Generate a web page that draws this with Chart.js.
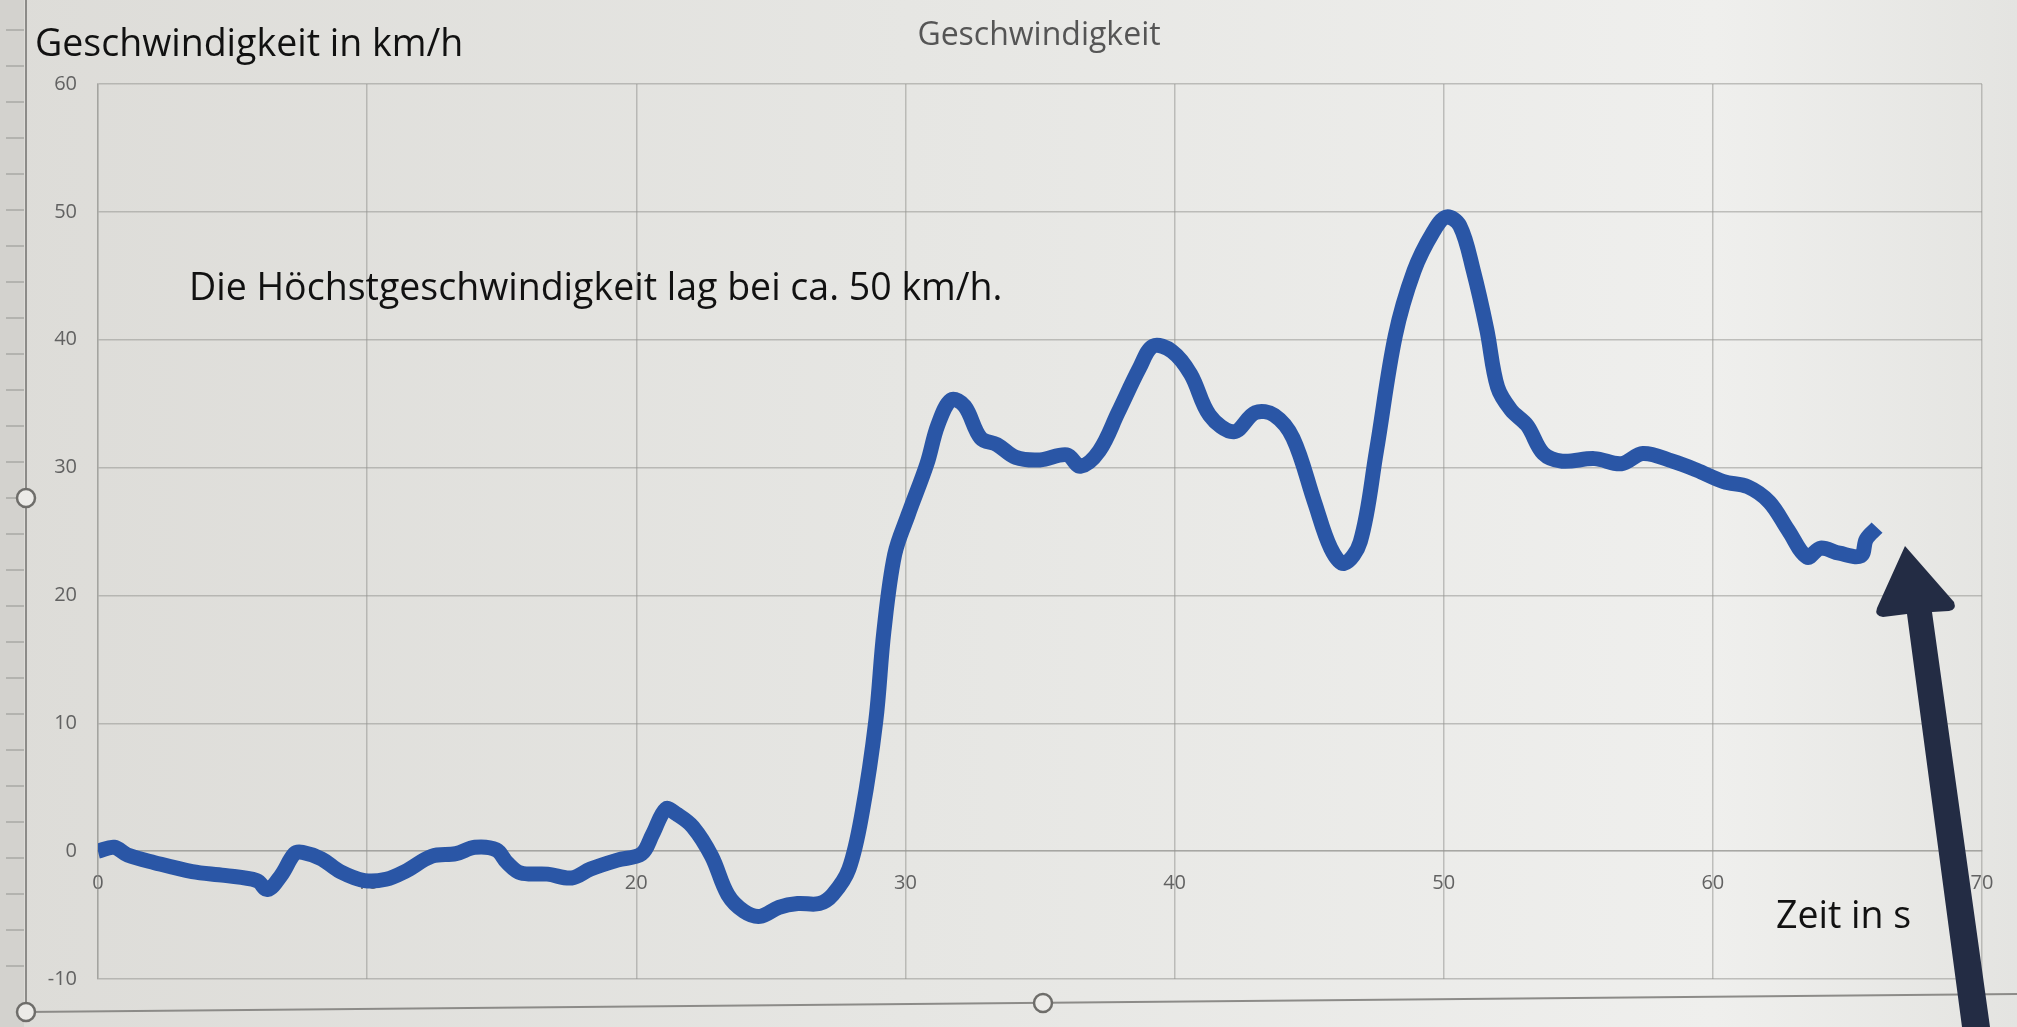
<!DOCTYPE html>
<html lang="de">
<head>
<meta charset="utf-8">
<title>Geschwindigkeit</title>
<script src="https://cdn.jsdelivr.net/npm/chart.js@4.4.1/dist/chart.umd.min.js"></script>
<style>
  html, body { margin: 0; padding: 0; background: #e3e3e0; overflow: hidden; }
  #graphique { display: block; }
</style>
</head>
<body>
<canvas id="graphique" width="2017" height="1027"></canvas>
<script>
/* global Chart */
// Zeit in s
const zeit = [
  0, 0.6, 1.1, 2.1, 3.5, 4.7, 5.9, 6.3, 6.8, 7.3, 7.6, 8.3, 9.0, 9.9, 10.7, 11.4,
  12.4, 13.3, 14.0, 14.8, 15.2, 15.7, 16.7, 17.6, 18.3, 19.3, 20.2, 20.6, 21.1, 21.5,
  22.1, 22.8, 23.4, 24.0, 24.6, 25.3, 26.0, 26.8, 27.3, 27.9, 28.4, 28.9, 29.2, 29.6,
  30.1, 30.8, 31.2, 31.7, 32.2, 32.8, 33.4, 34.1, 35.0, 36.0, 36.5, 37.2, 37.9, 38.7,
  39.2, 39.9, 40.6, 41.3, 42.2, 43.0, 43.7, 44.4, 45.2, 45.8, 46.3, 46.9, 47.5, 48.2,
  48.9, 49.6, 50.1, 50.6, 51.1, 51.6, 52.0, 52.5, 53.1, 53.7, 54.4, 55.6, 56.6, 57.4,
  58.5, 59.4, 60.4, 61.3, 62.1, 62.8, 63.5, 64.0, 64.7, 65.5, 65.7, 66.1
];
// Geschwindigkeit in km/h
const geschwindigkeit = [
  0, 0.3, -0.3, -0.9, -1.6, -1.9, -2.3, -3.0, -1.9, -0.2, -0.1, -0.6, -1.6, -2.3, -2.2, -1.6,
  -0.4, -0.2, 0.3, 0.1, -0.9, -1.7, -1.8, -2.1, -1.4, -0.7, -0.2, 1.3, 3.3, 2.9,
  1.9, -0.4, -3.4, -4.7, -5.1, -4.4, -4.1, -4.1, -3.4, -1.4, 3.1, 10.2, 17.2, 23.2,
  26.3, 30.3, 33.3, 35.3, 34.8, 32.3, 31.8, 30.8, 30.6, 31.0, 30.1, 31.3, 34.3, 37.8,
  39.5, 39.1, 37.3, 34.1, 32.8, 34.3, 34.1, 32.3, 27.3, 23.7, 22.5, 24.2, 31.3, 40.3,
  45.4, 48.4, 49.6, 48.9, 45.4, 40.8, 36.3, 34.5, 33.3, 31.1, 30.5, 30.7, 30.3, 31.1,
  30.5, 29.8, 28.9, 28.5, 27.3, 25.1, 23.0, 23.7, 23.3, 23.1, 24.4, 25.3
];
const xTicks = [0, 10, 20, 30, 40, 50, 60, 70];
const yTicks = [-10, 0, 10, 20, 30, 40, 50, 60];

const points = zeit.map((t, i) => ({ x: t, y: geschwindigkeit[i] }));

const gridColor = "rgba(150, 150, 146, 0.55)";
const tickFont = { family: "'Open Sans'", size: 20 };

// fond, cadre Excel, textes et fleche
const fondPlugin = {
  id: "fond",
  beforeDraw(chart) {
    const ctx = chart.ctx;
    const w = chart.width, h = chart.height;
    ctx.save();
    const g = ctx.createLinearGradient(0, 0, w, 0);
    g.addColorStop(0, "#dddcd8");
    g.addColorStop(0.45, "#e6e6e3");
    g.addColorStop(0.85, "#efefed");
    g.addColorStop(1, "#e4e4e1");
    ctx.fillStyle = g;
    ctx.fillRect(0, 0, w, h);
    // bande gauche
    ctx.fillStyle = "#d3d2ce";
    ctx.fillRect(0, 0, 24, h);
    ctx.strokeStyle = "#a9a8a4";
    ctx.lineWidth = 1.5;
    for (let y = 30; y < 1000; y += 36) {
      ctx.beginPath();
      ctx.moveTo(6, y);
      ctx.lineTo(24, y);
      ctx.stroke();
    }
    // cadre
    ctx.strokeStyle = "#8c8b88";
    ctx.lineWidth = 2;
    ctx.beginPath();
    ctx.moveTo(26, 0);
    ctx.lineTo(26, 1012);
    ctx.lineTo(2017, 994);
    ctx.stroke();
    // titre
    ctx.fillStyle = "#555555";
    ctx.textAlign = "center";
    ctx.textBaseline = "middle";
    ctx.font = "32px 'Open Sans'";
    ctx.fillText("Geschwindigkeit", 1039, 36);
    ctx.restore();
  },
  afterDraw(chart) {
    const ctx = chart.ctx;
    ctx.save();
    // poignées
    ctx.strokeStyle = "#6e6d6a";
    ctx.fillStyle = "#ecebe8";
    ctx.lineWidth = 2.5;
    [[26, 498], [26, 1012], [1043, 1003]].forEach(([cx, cy]) => {
      ctx.beginPath();
      ctx.arc(cx, cy, 9, 0, Math.PI * 2);
      ctx.fill();
      ctx.stroke();
    });
    // textes
    ctx.fillStyle = "#111";
    ctx.textBaseline = "middle";
    ctx.textAlign = "left";
    ctx.font = "37.5px 'Open Sans'";
    ctx.fillText("Geschwindigkeit in km/h", 35, 45);
    ctx.fillText("Die Höchstgeschwindigkeit lag bei ca. 50 km/h.", 189, 289);
    ctx.fillText("Zeit in s", 1776, 917);
    // fleche
    ctx.fillStyle = "#232c44";
    ctx.beginPath();
    ctx.moveTo(1905, 546);
    ctx.lineTo(1954, 602);
    ctx.quadraticCurveTo(1957, 610, 1949, 611);
    ctx.lineTo(1932, 612);
    ctx.lineTo(1990, 1027);
    ctx.lineTo(1962, 1027);
    ctx.lineTo(1907, 614);
    ctx.lineTo(1883, 617);
    ctx.quadraticCurveTo(1874, 616, 1877, 608);
    ctx.closePath();
    ctx.fill();
    ctx.restore();
  }
};

const config = {
  type: "line",
  data: {
    datasets: [
      {
        label: "Geschwindigkeit",
        data: points,
        borderColor: "#2a56a6",
        borderWidth: 15,
        pointRadius: 0,
        tension: 0.35,
        fill: false
      }
    ]
  },
  options: {
    responsive: false,
    animation: false,
    devicePixelRatio: 1,
    layout: { padding: { left: 0, right: 35, top: 84, bottom: 48 } },
    plugins: {
      legend: { display: false },
      tooltip: { enabled: false },
      title: { display: false }
    },
    scales: {
      x: {
        type: "linear",
        min: 0,
        max: 70,
        position: { y: 0 },
        afterBuildTicks: (scale) => { scale.ticks = xTicks.map((v) => ({ value: v })); },
        ticks: { color: "#626262", font: tickFont, padding: 20, maxRotation: 0, autoSkip: false },
        grid: { color: gridColor, lineWidth: 1.5, drawTicks: false },
        border: { color: gridColor, width: 1.5 }
      },
      y: {
        min: -10,
        max: 60,
        afterBuildTicks: (scale) => { scale.ticks = yTicks.map((v) => ({ value: v })); },
        afterFit: (scale) => { scale.width = 98; },
        ticks: { color: "#626262", font: tickFont, padding: 21 },
        grid: { color: gridColor, lineWidth: 1.5, drawTicks: false },
        border: { color: gridColor, width: 1.5 }
      }
    }
  },
  plugins: [fondPlugin]
};

new Chart(document.querySelector("#graphique"), config);
</script>
</body>
</html>
